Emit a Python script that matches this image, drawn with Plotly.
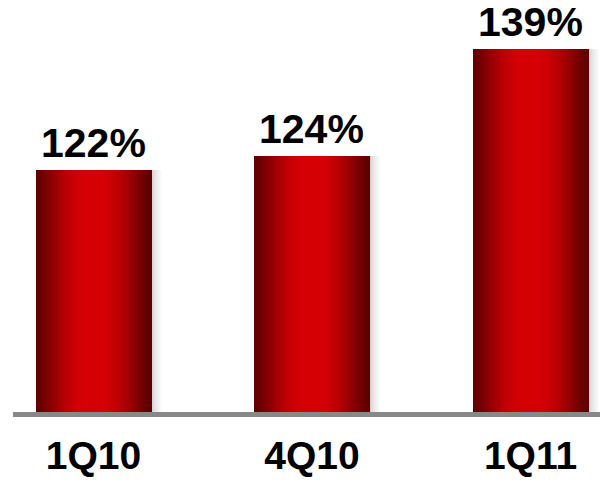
import math
import plotly.graph_objects as go

# Quarterly ratio, in percent
quarters = ["1Q10", "4Q10", "1Q11"]
ratios = [122, 124, 139]
value_labels = [f"{v}%" for v in ratios]

FONT = "Arial, Liberation Sans, sans-serif"
BAR_W = 0.526          # bar width in category units
PX = 1 / 218.5         # one pixel in category units
N_STRIPS = 48          # vertical slices used to shade each bar

EDGE = (92, 0, 2)      # dark maroon at the bar edges
MID = (212, 0, 4)      # bright red in the bar centre


def shade(t):
    """Colour across the bar: t=0 left edge, t=1 right edge."""
    s = 1 - abs(2 * t - 1)
    f = math.sin(math.pi / 2 * min(1.0, s / 0.9)) ** 1.2
    r, g, b = (round(e + (m - e) * f) for e, m in zip(EDGE, MID))
    return f"rgb({r},{g},{b})"


fig = go.Figure()

# soft drop shadow to the right of each bar: widest and palest first,
# narrower and darker slices drawn on top
SHADOW_STEPS = 12
for k in reversed(range(SHADOW_STEPS)):
    g = round(205 + 50 * (k / (SHADOW_STEPS - 1)) ** 0.7)
    fig.add_trace(go.Bar(
        x=quarters, y=ratios,
        width=(k + 1) * PX,
        offset=BAR_W / 2,
        marker=dict(color=f"rgb({g},{g},{g})", line=dict(width=0)),
        hoverinfo="skip", showlegend=False,
    ))

# the bars themselves, built from narrow vertical slices
step = BAR_W / N_STRIPS
for i in range(N_STRIPS):
    t = (i + 0.5) / N_STRIPS
    fig.add_trace(go.Bar(
        x=quarters, y=ratios,
        width=step * 1.6,
        offset=-BAR_W / 2 + i * step - (0.3 * step if i else 0),
        marker=dict(color=shade(t), line=dict(width=0)),
        hoverinfo="skip", showlegend=False,
    ))

# value labels above the bars
for q, v, lab in zip(quarters, ratios, value_labels):
    fig.add_annotation(
        x=q, y=v, text=lab, showarrow=False,
        yanchor="bottom", yshift=2,
        font=dict(family=FONT, size=41, color="#000000", weight="bold"),
    )

fig.update_layout(
    width=600, height=480,
    margin=dict(l=13, r=0, t=0, b=68, autoexpand=False),
    paper_bgcolor="white", plot_bgcolor="white",
    barmode="overlay", bargap=0,
    showlegend=False,
    xaxis=dict(
        type="category", range=[-0.368, 2.318],
        automargin=False,
        showgrid=False, zeroline=False,
        showline=True, linecolor="#888888", linewidth=5,
        ticks="", ticklabelstandoff=5,
        tickfont=dict(family=FONT, size=39, color="#000000", weight="bold"),
    ),
    yaxis=dict(
        range=[88.2, 145.8], visible=False,
        showgrid=False, zeroline=False,
    ),
)

fig.write_html("out.html")
